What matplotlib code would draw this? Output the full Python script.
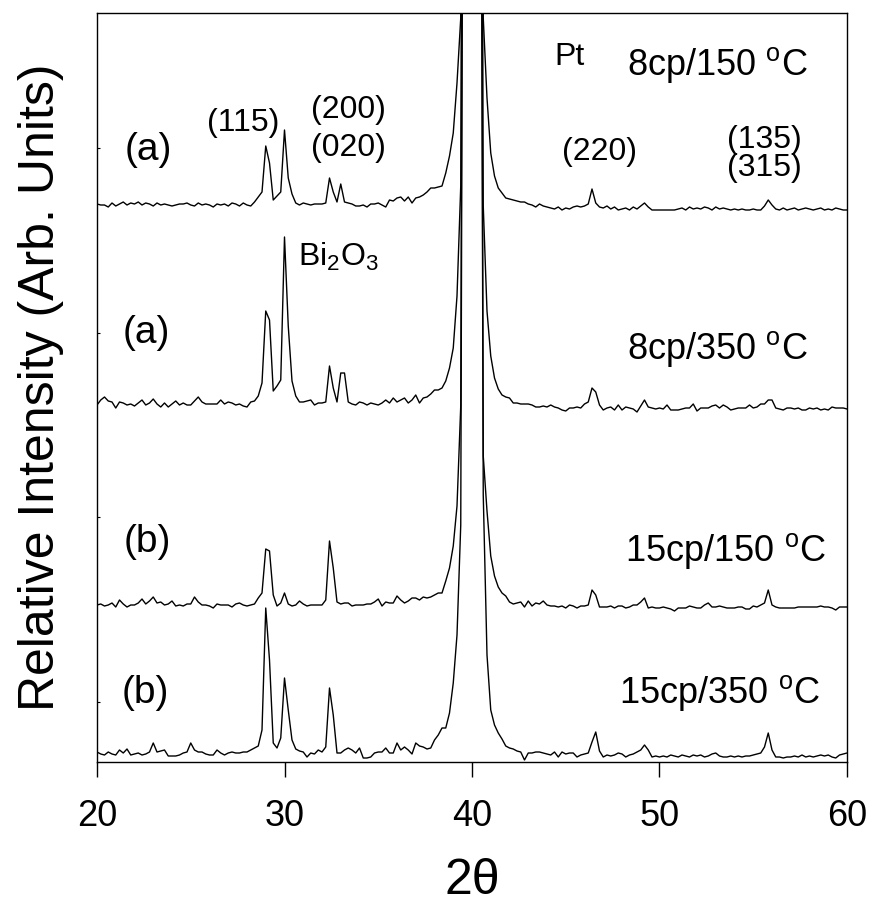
import numpy as np
import matplotlib.pyplot as plt

plt.rcParams['font.family'] = ['Liberation Sans', 'DejaVu Sans']
plt.rcParams['mathtext.fontset'] = 'custom'
plt.rcParams['mathtext.rm'] = 'Liberation Sans'
plt.rcParams['mathtext.it'] = 'Liberation Sans:italic'

# 2theta sampling (0.2 deg steps)
two_theta = np.linspace(20, 60, 201)

# intensities above each baseline (arb. units)
# Pt(111) peak around 40 deg is off scale in every pattern
i_8cp_150 = [
    4, 3, 3, 1, 5, 2, 4, 6, 3, 5,
    4, 6, 3, 5, 4, 2, 5, 3, 4, 3,
    2, 3, 4, 4, 5, 3, 2, 5, 3, 4,
    3, 1, 4, 3, 4, 2, 5, 4, 2, 5,
    3, 2, 6, 11, 16, 62, 45, 8, 12, 16,
    78, 30, 14, 5, 3, 5, 4, 3, 4, 4,
    4, 5, 30, 16, 6, 24, 6, 5, 4, 2,
    2, 3, 1, 4, 4, 5, 3, 1, 8, 7,
    10, 11, 7, 11, 5, 10, 11, 13, 16, 20,
    20, 21, 22, 35, 52, 75, 125, 190, 1500, 3000,
    4000, 3000, 1500, 190, 110, 55, 32, 20, 15, 10,
    9, 8, 7, 6, 6, 4, 3, 1, 4, 2,
    1, 0, -1, 1, -2, 0, -1, 1, 2, 1,
    2, 4, 19, 5, 1, 0, 2, -1, 1, -2,
    -1, 0, -2, 1, -1, 2, 5, 1, -2, -2,
    -2, -2, -2, -2, -2, -1, 0, -2, 1, -1,
    0, -1, 1, 0, -2, 1, -1, 0, -1, -2,
    -1, -2, -1, -2, -2, -1, -2, -2, 2, 8,
    3, -1, -2, 0, -2, -1, 0, -2, -1, 0,
    -1, -2, -1, 0, -2, -1, -2, 0, -1, -2,
    -2]

i_8cp_350 = [
    1, 6, 9, 5, 4, -2, 4, 3, 1, 2,
    0, 3, 6, 1, 3, 7, 2, -1, 3, -1,
    2, 5, 1, 3, 1, 1, 5, 9, 4, 2,
    2, 2, 2, 6, 2, 4, 3, 1, 2, 0,
    -1, 4, 5, 10, 23, 95, 86, 15, 20, 26,
    169, 80, 25, 10, 4, 4, 5, 6, 1, 3,
    3, 4, 40, 18, 4, 33, 33, 4, 2, 1,
    4, 3, 1, 3, 2, 1, 3, 6, 3, 8,
    4, 6, 8, 3, 6, 11, 3, 8, 9, 12,
    16, 16, 18, 25, 38, 58, 110, 220, 1500, 3000,
    4000, 3000, 1500, 200, 95, 50, 28, 17, 11, 9,
    8, 3, 3, 2, 2, 2, 1, -1, -1, 0,
    -1, 1, -1, -2, -4, -5, -2, -2, -1, -2,
    2, 4, 18, 14, 1, -4, -2, -1, -4, 1,
    -4, -1, -2, -3, -6, 0, 6, -1, -2, -3,
    -2, -3, 1, -4, -4, -4, -3, -2, -2, 2,
    -5, -2, -2, -2, 0, 1, -2, 1, -1, -4,
    -3, -2, -2, -2, 1, -2, -1, 2, 2, 6,
    6, -2, -3, -4, -2, -2, -3, -2, -4, -4,
    -2, -3, -2, -4, -3, -4, -1, -2, -2, -2,
    -3]

i_15cp_150 = [
    1, 2, 0, 1, 3, -1, 6, 2, -1, 1,
    1, 3, 7, 2, 5, 9, 3, 4, 1, 2,
    5, 0, 1, 0, 2, 2, 9, 4, 1, 1,
    0, -2, 2, 1, 1, 1, -1, 2, 3, 1,
    0, 1, 2, 8, 13, 57, 55, 11, 0, 3,
    13, 2, 0, 1, 5, 2, 0, 1, 1, 1,
    1, 6, 65, 38, 4, 2, 3, 3, 0, 1,
    1, 1, 2, 2, 4, 7, 0, 4, 3, 3,
    10, 6, 3, 5, 8, 8, 6, 9, 8, 9,
    11, 13, 13, 25, 38, 60, 100, 200, 1500, 3000,
    4000, 3000, 1500, 150, 95, 50, 30, 19, 13, 10,
    4, 2, 3, 4, -1, 5, 0, 3, 2, 5,
    1, 0, 0, -1, 0, -2, 1, 0, -2, 0,
    0, 1, 16, 11, -1, -1, -1, 0, -2, 0,
    0, -2, -1, 1, 1, 4, 8, -2, -1, -2,
    -2, -1, -2, -3, -5, -2, -2, -2, 0, -1,
    -2, -2, 1, 3, -1, -1, 0, -1, -2, -2,
    -2, -1, -1, -3, -3, 0, -1, 1, 3, 16,
    1, -1, -2, -2, -2, -2, -2, -1, -1, -1,
    -1, -1, -1, 0, -1, -1, -2, -4, -1, -1,
    -1]

i_15cp_350 = [
    3, 1, 0, 3, 1, 0, 5, 2, 6, 0,
    1, 2, 0, 1, 3, 12, 3, 4, 5, -1,
    -1, -1, 0, 2, 3, 12, 5, 3, 3, 1,
    0, 0, 5, 2, 0, 2, 3, 2, 2, 3,
    3, 5, 7, 9, 25, 147, 95, 12, 7, 17,
    77, 45, 15, 6, 4, 3, -2, 2, 1, 5,
    3, 8, 67, 40, 2, 2, 5, 7, 5, 2,
    7, -3, -3, -2, 2, 3, 3, 7, 2, 2,
    12, 5, 8, 5, 1, 12, 9, 8, 6, 7,
    15, 20, 27, 27, 42, 72, 120, 230, 1500, 3000,
    4000, 3000, 1500, 260, 100, 45, 30, 22, 16, 9,
    7, 6, 4, 3, -5, 2, 2, 3, 3, 2,
    1, 0, 3, -2, 3, 1, 2, 2, -2, 0,
    1, 2, 13, 23, 4, -2, 0, -1, 0, 2,
    1, -2, 0, 1, 3, 5, 10, 5, -2, -1,
    -2, -1, -2, 0, -1, -2, 0, -1, -2, 0,
    -1, 0, -2, -1, 1, 2, -1, -2, -2, -1,
    -2, -1, -2, -1, -1, 0, 1, 2, 8, 22,
    5, -2, -2, -3, -2, -2, -1, -2, 0, -2,
    -1, -2, -1, 0, -1, 0, -2, -3, 0, 1,
    2]

patterns = [i_8cp_150, i_8cp_350, i_15cp_150, i_15cp_350]
offsets = [554, 356, 156, 7]
samples = [r'8cp/150 $^{\rm o}$C', r'8cp/350 $^{\rm o}$C',
           r'15cp/150 $^{\rm o}$C', r'15cp/350 $^{\rm o}$C']
sample_pos = [(53.1, 687), (53.1, 403), (53.5, 201), (53.2, 59)]
series = ['(a)', '(a)', '(b)', '(b)']
series_pos = [(22.75, 612), (22.65, 429), (22.7, 220), (22.55, 69)]

fig = plt.figure(figsize=(8.7, 9.1), dpi=100)
ax = fig.add_axes([97/870, 1 - 762/910, 750/870, 749/910])

for inten, off in zip(patterns, offsets):
    ax.plot(two_theta, np.array(inten) + off, color='black', lw=1.0)

for txt, (x, y) in zip(samples, sample_pos):
    ax.text(x, y, txt, fontsize=26, ha='center', va='baseline')
for txt, (x, y) in zip(series, series_pos):
    ax.text(x, y, txt, fontsize=28, ha='center', va='center')

# peak labels
ax.text(27.8, 639, '(115)', fontsize=23, ha='center', va='center')
ax.text(33.4, 652, '(200)', fontsize=23, ha='center', va='center')
ax.text(33.4, 614, '(020)', fontsize=23, ha='center', va='center')
ax.text(45.2, 705, 'Pt', fontsize=23, ha='center', va='center')
ax.text(46.8, 610, '(220)', fontsize=23, ha='center', va='center')
ax.text(55.6, 622, '(135)', fontsize=23, ha='center', va='center')
ax.text(55.6, 594, '(315)', fontsize=23, ha='center', va='center')
ax.text(30.7, 496, r'Bi$_2$O$_3$', fontsize=23, ha='left', va='baseline')

ax.set_xlim(20, 60)
ax.set_ylim(0, 749)
ax.set_xticks([20, 30, 40, 50, 60])
ax.set_yticks([60, 245, 429, 614])
ax.tick_params(axis='x', direction='out', length=11, width=1, labelsize=26, pad=16)
ax.tick_params(axis='y', direction='in', length=2.5, width=0.8, labelleft=False)
for s in ax.spines.values():
    s.set_linewidth(1.0)

ax.set_xlabel('2θ', fontsize=36, labelpad=17)
ax.set_ylabel('Relative Intensity (Arb. Units)', fontsize=36, labelpad=24)

fig.savefig('out.png', dpi=100)
